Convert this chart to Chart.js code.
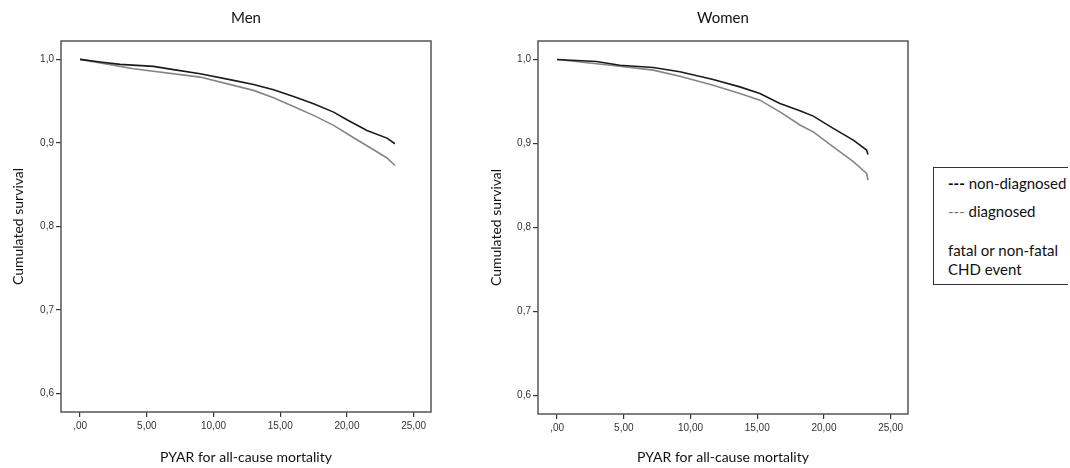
<!DOCTYPE html>
<html lang="en">
<head>
  <meta charset="UTF-8">
  <title>Cumulated survival</title>
  <script src="https://cdn.jsdelivr.net/npm/chart.js"></script>
  <style>
    body { margin: 0; background: #fff; }
    .wrap { position: relative; width: 1070px; height: 468px; overflow: hidden; }
    canvas { position: absolute; top: 0; }
    #men { left: 0; }
    #women { left: 477px; }
    .legend {
      position: absolute;
      left: 933px;
      top: 167px;
      width: 134px;
      height: 116px;
      border-left: 1px solid #333;
      border-top: 1px solid #333;
      border-bottom: 1px solid #333;
      font-family: Lato, sans-serif;
      font-size: 15px;
      color: #111;
      line-height: 18px;
    }
    .legend div { position: absolute; left: 14px; white-space: nowrap; }
    .legend b { color: #000; }
    .legend .grey { color: #777; }
  </style>
</head>
<body>
  <div class="wrap">
    <canvas id="men" width="440" height="468"></canvas>
    <canvas id="women" width="440" height="468"></canvas>
    <div class="legend">
      <div style="top:6px"><b>---</b> non-diagnosed</div>
      <div style="top:34px"><span class="grey">---</span> diagnosed</div>
      <div style="top:73px">fatal or non-fatal</div>
      <div style="top:92px">CHD event</div>
    </div>
  </div>

  <script>
    // tick values and labels (SPSS style, decimal comma)
    const xTickValues = [0, 5, 10, 15, 20, 25];
    const xTickLabels = [',00', '5,00', '10,00', '15,00', '20,00', '25,00'];
    const yTickValues = [0.6, 0.7, 0.8, 0.9, 1.0];
    const yTickLabels = ['0,6', '0,7', '0,8', '0,9', '1,0'];

    // Men
    const menNonDiagX = [0, 1.5, 3.0, 5.5, 7.0, 9.0, 11.5, 13.0, 14.5, 16.0, 17.5, 19.0, 20.0, 21.5, 23.0, 23.6];
    const menNonDiagY = [1.0, 0.9968, 0.994, 0.9916, 0.9877, 0.9828, 0.9749, 0.970, 0.9637, 0.9557, 0.9469, 0.9369, 0.9277, 0.915, 0.9058, 0.899];
    const menDiagX = [0, 4.0, 9.0, 11.5, 13.0, 14.5, 16.0, 17.5, 19.0, 20.5, 22.0, 23.0, 23.6];
    const menDiagY = [1.0, 0.9888, 0.9788, 0.9689, 0.9629, 0.954, 0.9437, 0.933, 0.921, 0.9062, 0.8918, 0.882, 0.873];

    // Women
    const womenNonDiagX = [0, 2.95, 4.7, 7.2, 9.2, 11.7, 13.7, 15.2, 16.7, 18.2, 19.2, 20.7, 22.2, 23.2, 23.3];
    const womenNonDiagY = [1.0, 0.9976, 0.9932, 0.9905, 0.9853, 0.9762, 0.9674, 0.9596, 0.9477, 0.9389, 0.9326, 0.918, 0.904, 0.8922, 0.887];
    const womenDiagX = [0, 4.7, 7.2, 9.2, 11.7, 13.7, 15.2, 16.7, 18.2, 19.2, 20.7, 22.2, 23.2, 23.3];
    const womenDiagY = [1.0, 0.992, 0.9873, 0.9801, 0.9694, 0.9596, 0.9516, 0.9377, 0.922, 0.9139, 0.8961, 0.8783, 0.8644, 0.8565];

    const zip = (xs, ys) => xs.map((x, i) => ({ x: x, y: ys[i] }));

    // box around the plot area
    const framePlugin = {
      id: 'frame',
      afterDraw(chart) {
        const a = chart.chartArea;
        const ctx = chart.ctx;
        ctx.save();
        ctx.strokeStyle = '#555';
        ctx.lineWidth = 1.5;
        ctx.strokeRect(a.left, a.top, a.right - a.left, a.bottom - a.top);
        ctx.restore();
      }
    };

    function makeChart(id, title, nonDiag, diag, xAxisHeight, yTitlePad) {
      return new Chart(document.getElementById(id), {
        type: 'line',
        data: {
          datasets: [
            { label: 'non-diagnosed', data: nonDiag, borderColor: '#1a1a1a', borderWidth: 1.6, pointRadius: 0, tension: 0 },
            { label: 'diagnosed', data: diag, borderColor: '#858585', borderWidth: 1.6, pointRadius: 0, tension: 0 }
          ]
        },
        options: {
          responsive: false,
          animation: false,
          devicePixelRatio: 1,
          layout: { padding: { left: 0, right: 9, top: 0, bottom: 0 } },
          plugins: {
            legend: { display: false },
            tooltip: { enabled: false },
            title: {
              display: true,
              text: title,
              fullSize: false,
              color: '#111',
              font: { family: 'Lato', size: 15, weight: 'normal' },
              padding: { top: 9, bottom: 14 }
            }
          },
          scales: {
            x: {
              type: 'linear',
              min: -1.43,
              max: 26.3,
              border: { display: false },
              grid: { drawOnChartArea: false, drawTicks: true, tickLength: 5, color: '#333', lineWidth: 1.2 },
              afterBuildTicks: s => { s.ticks = xTickValues.map(v => ({ value: v })); },
              afterFit: s => { s.height = xAxisHeight; },
              ticks: {
                color: '#333',
                padding: 3,
                maxRotation: 0,
                font: { family: 'Liberation Sans', size: 10 },
                callback: v => xTickLabels[xTickValues.indexOf(v)]
              },
              title: {
                display: true,
                text: 'PYAR for all-cause mortality',
                color: '#111',
                font: { family: 'Lato', size: 14 },
                padding: { top: 0, bottom: 2 }
              }
            },
            y: {
              min: 0.578,
              max: 1.022,
              border: { display: false },
              grid: { drawOnChartArea: false, drawTicks: true, tickLength: 5, color: '#333', lineWidth: 1.2 },
              afterBuildTicks: s => { s.ticks = yTickValues.map(v => ({ value: v })); },
              afterFit: s => { s.width = 61; },
              ticks: {
                color: '#333',
                padding: 2,
                font: { family: 'Liberation Sans', size: 10 },
                callback: v => yTickLabels[yTickValues.findIndex(t => Math.abs(t - v) < 1e-6)]
              },
              title: {
                display: true,
                text: 'Cumulated survival',
                color: '#111',
                font: { family: 'Lato', size: 14 },
                padding: { top: yTitlePad, bottom: 0 }
              }
            }
          }
        },
        plugins: [framePlugin]
      });
    }

    makeChart('men', 'Men', zip(menNonDiagX, menNonDiagY), zip(menDiagX, menDiagY), 56, 10);
    makeChart('women', 'Women', zip(womenNonDiagX, womenNonDiagY), zip(womenDiagX, womenDiagY), 54, 11);
  </script>
</body>
</html>
